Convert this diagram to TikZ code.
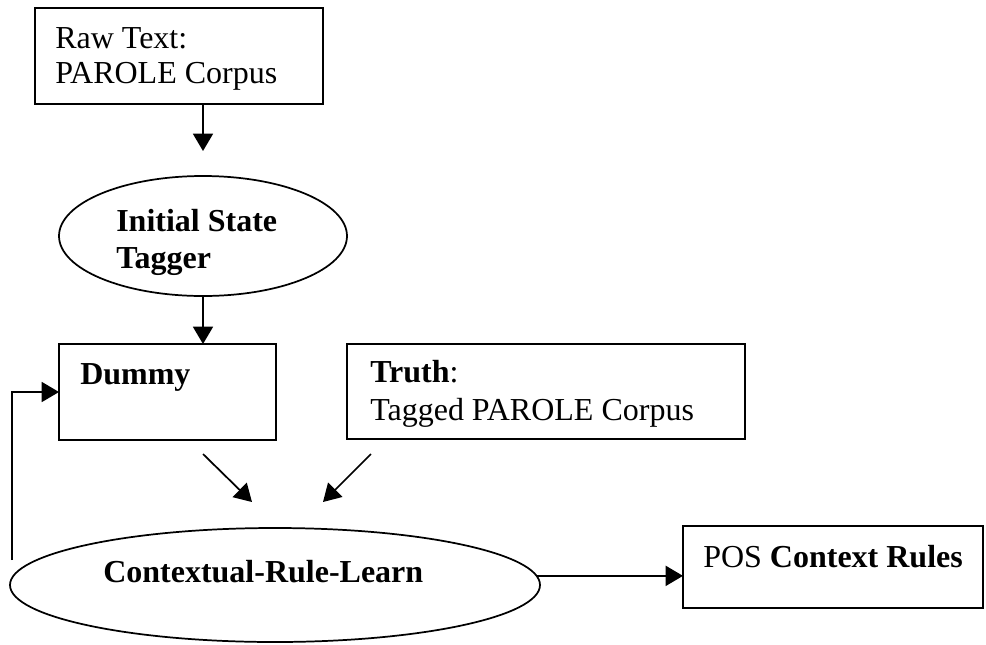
\documentclass[tikz,border=0pt]{standalone}
\usepackage{fontspec}
\setmainfont{Liberation Serif}
\usetikzlibrary{arrows.meta,shapes.geometric,calc}
\begin{document}
\begin{tikzpicture}[x=0.75pt,y=-0.75pt,
  every node/.style={font=\fontsize{24}{26.25}\selectfont},
  boxn/.style={draw,line width=1.3pt,inner sep=0,outer sep=0,anchor=north west},
  elln/.style={draw,ellipse,line width=1.3pt,inner sep=0,outer sep=0},
  txt/.style={anchor=base west,inner sep=0},
  arr/.style={line width=1.3pt,-{Triangle[length=13pt,width=15pt]}}]
\path[use as bounding box] (0,0) rectangle (986,644);
% shapes
\node[boxn,minimum width=216pt,minimum height=72pt] (box1) at (35,8) {};
\node[elln,minimum width=216pt,minimum height=90pt] (ell1) at (203,236) {};
\node[boxn,minimum width=162.75pt,minimum height=72pt] (dummy) at (59,344) {};
\node[boxn,minimum width=298.5pt,minimum height=71.25pt] (truth) at (347,344) {};
\node[elln,minimum width=397.5pt,minimum height=85.5pt] (ell2) at (275,585) {};
\node[boxn,minimum width=225pt,minimum height=61.5pt] (pos) at (683,526) {};
% texts
\node[txt] (t1a) at (55,48) {Raw Text:};
\node[txt] (t1b) at (55,83) {PAROLE Corpus};
\node[txt] (t2a) at (116,231) {\textbf{Initial State}};
\node[txt] (t2b) at (116,268) {\textbf{Tagger}};
\node[txt] (t3) at (80,384) {\textbf{Dummy}};
\node[txt] (t4a) at (370,382) {\textbf{Truth}:};
\node[txt] (t4b) at (370,420) {Tagged PAROLE Corpus};
\node[txt] (t5) at (103,582) {\textbf{Contextual-Rule-Learn}};
\node[txt] (t6) at (703,567) {POS \textbf{Context Rules}};
% connectors
\draw[arr] (box1.south -| ell1.north) -- ($(ell1.north)+(0,-25)$);
\draw[arr] (ell1.south) -- (ell1.south |- dummy.north);
\coordinate (d1) at (203,454); \coordinate (d1e) at (252,502);
\coordinate (d2) at (371,454); \coordinate (d2e) at (323,502);
\draw[arr] (d1) -- (d1e);
\draw[arr] (d2) -- (d2e);
\coordinate (fb) at (12,560);
\draw[arr] (fb) |- (dummy.west);
\draw[arr] (ell2.2) -- (ell2.2 -| pos.west);
\end{tikzpicture}
\end{document}
